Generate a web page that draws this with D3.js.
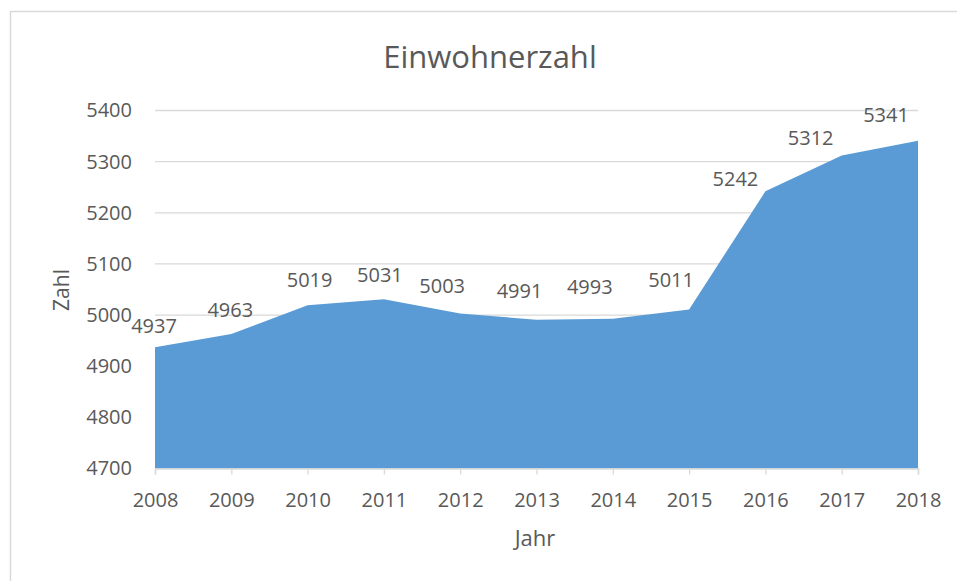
<!DOCTYPE html>
<html>
<head>
<meta charset="utf-8">
<script src="https://cdn.jsdelivr.net/npm/d3@7"></script>
<style>
  body { margin: 0; background: #fff; }
  text { font-family: "Open Sans", Lato, sans-serif; fill: #595959; }
</style>
</head>
<body>
<svg id="chart" width="957" height="581"></svg>
<script>
var years = ["2008", "2009", "2010", "2011", "2012", "2013", "2014", "2015", "2016", "2017", "2018"];
var einwohner = [4937, 4963, 5019, 5031, 5003, 4991, 4993, 5011, 5242, 5312, 5341];
var yTicks = [4700, 4800, 4900, 5000, 5100, 5200, 5300, 5400];

// hand-placed data label nudges (the original labels were dragged around)
var labelDx = [-1, -1, 2, -4, -18, -17, -23, -18, -30, -31, -32];
var labelDy = [-14, -17, -18, -17, -21, -22, -25, -22, -5, -11, -19];

var svg = d3.select("#chart");

// outer chart border (runs off the right/bottom edges)
svg.append("rect")
  .attr("x", 10.5).attr("y", 11.5)
  .attr("width", 960).attr("height", 600)
  .attr("fill", "none")
  .attr("stroke", "#d9d9d9")
  .attr("stroke-width", 1.5);

var margin = {top: 110.5, left: 155, right: 39, bottom: 112.5},
    width = 957 - margin.left - margin.right,
    height = 581 - margin.top - margin.bottom;

var x = d3.scalePoint().domain(years).range([0, width]);
var y = d3.scaleLinear().domain([4700, 5400]).range([height, 0]);

var g = svg.append("g")
  .attr("transform", "translate(" + margin.left + "," + margin.top + ")");

// gridlines
g.selectAll(".grid").data(yTicks.slice(1)).enter().append("line")
  .attr("x1", 0).attr("x2", width)
  .attr("y1", function(d) { return y(d); })
  .attr("y2", function(d) { return y(d); })
  .attr("stroke", "#d9d9d9").attr("stroke-width", 1.3);

var area = d3.area()
  .x(function(d, i) { return x(years[i]); })
  .y0(height)
  .y1(function(d) { return y(d); });

g.append("path")
  .datum(einwohner)
  .attr("fill", "#5b9bd5")
  .attr("d", area);

// x axis
var xAxis = g.append("g")
  .attr("transform", "translate(0," + height + ")")
  .call(d3.axisBottom(x).tickSize(6).tickPadding(18));
xAxis.select(".domain").attr("stroke", "#d9d9d9").attr("stroke-width", 1.5);
xAxis.selectAll(".tick line").attr("stroke", "#d9d9d9").attr("stroke-width", 1.3);
xAxis.selectAll(".tick text").style("font-size", "20px").attr("fill", "#595959");

// y axis
var yAxis = g.append("g")
  .call(d3.axisLeft(y).tickValues(yTicks).tickFormat(d3.format("d")).tickSize(0).tickPadding(23));
yAxis.select(".domain").remove();
yAxis.selectAll(".tick text").style("font-size", "20px").attr("fill", "#595959");

// data labels
g.selectAll(".lbl").data(einwohner).enter().append("text")
  .attr("x", function(d, i) { return x(years[i]) + labelDx[i]; })
  .attr("y", function(d, i) { return y(d) + labelDy[i]; })
  .attr("text-anchor", "middle")
  .style("font-size", "20px")
  .text(function(d) { return d; });

// title
svg.append("text")
  .attr("x", 490).attr("y", 68)
  .attr("text-anchor", "middle")
  .style("font-size", "31px")
  .text("Einwohnerzahl");

// axis titles
svg.append("text")
  .attr("x", 535).attr("y", 546)
  .attr("text-anchor", "middle")
  .style("font-size", "22px")
  .text("Jahr");

svg.append("text")
  .attr("transform", "translate(69,290) rotate(-90)")
  .attr("text-anchor", "middle")
  .style("font-size", "21px")
  .text("Zahl");
</script>
</body>
</html>
